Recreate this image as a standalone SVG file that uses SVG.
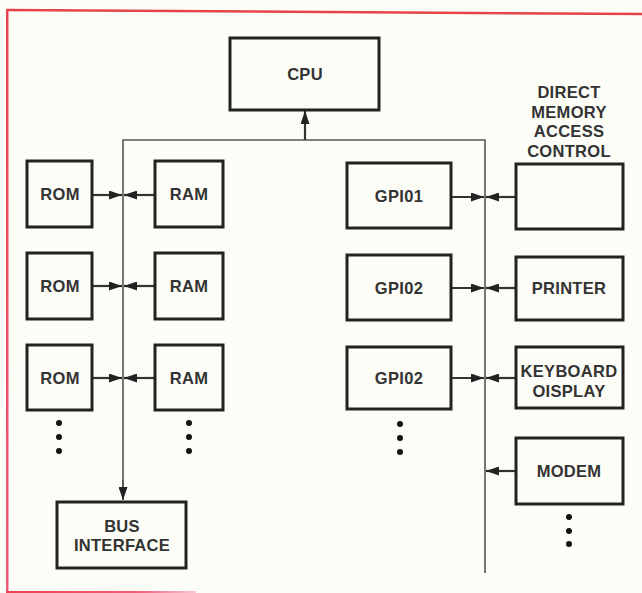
<svg xmlns="http://www.w3.org/2000/svg" width="642" height="593" viewBox="0 0 642 593">
<defs>
<style>
.box{fill:none;stroke:#222;stroke-width:3}
.t{font-family:"Liberation Sans",Arial,sans-serif;font-weight:bold;font-size:16.5px;fill:#333;text-anchor:middle;letter-spacing:0.3px}
.bus{fill:none;stroke:#555;stroke-width:1.6}
.ln{fill:none;stroke:#333;stroke-width:2.2}
.dot{fill:#111}
.red{fill:none;stroke:#e8424e;stroke-width:2.5}
</style>
<marker id="ah" viewBox="0 0 13 9" refX="13" refY="4.5" markerWidth="13" markerHeight="9" markerUnits="userSpaceOnUse" orient="auto">
<path d="M0,0 L13,4.5 L0,9 Z" fill="#222"/>
</marker>
<linearGradient id="fade" x1="0" y1="0" x2="1" y2="0">
<stop offset="0" stop-color="#e8424e"/>
<stop offset="0.7" stop-color="#f0607a"/>
<stop offset="1" stop-color="#f8c8d4"/>
</linearGradient>
<linearGradient id="lfade" x1="0" y1="0" x2="0" y2="1">
<stop offset="0" stop-color="#e8424e"/>
<stop offset="1" stop-color="#f05a78"/>
</linearGradient>
</defs>
<rect width="642" height="593" fill="#fdfdf8"/>
<g id="frame">
<line x1="7" y1="10" x2="642" y2="14" class="red"/>
<rect x="6" y="9" width="2.5" height="584" fill="url(#lfade)"/>
<rect x="6" y="591" width="190" height="2.5" fill="url(#fade)"/>
</g>
<g id="connectors">
<polyline class="bus" points="123,500 123,140 485,140 485,573"/>
<line class="ln" x1="305" y1="140" x2="305" y2="111" marker-end="url(#ah)"/>
<line class="bus" x1="123" y1="480" x2="123" y2="500" marker-end="url(#ah)"/>
<line class="ln" x1="92" y1="195" x2="122" y2="195" marker-end="url(#ah)"/>
<line class="ln" x1="155" y1="195" x2="124" y2="195" marker-end="url(#ah)"/>
<line class="ln" x1="92" y1="286" x2="122" y2="286" marker-end="url(#ah)"/>
<line class="ln" x1="155" y1="286" x2="124" y2="286" marker-end="url(#ah)"/>
<line class="ln" x1="92" y1="378" x2="122" y2="378" marker-end="url(#ah)"/>
<line class="ln" x1="155" y1="378" x2="124" y2="378" marker-end="url(#ah)"/>
<line class="ln" x1="451" y1="197" x2="484" y2="197" marker-end="url(#ah)"/>
<line class="ln" x1="516" y1="197" x2="486" y2="197" marker-end="url(#ah)"/>
<line class="ln" x1="451" y1="288" x2="484" y2="288" marker-end="url(#ah)"/>
<line class="ln" x1="516" y1="288" x2="486" y2="288" marker-end="url(#ah)"/>
<line class="ln" x1="451" y1="378" x2="484" y2="378" marker-end="url(#ah)"/>
<line class="ln" x1="516" y1="378" x2="486" y2="378" marker-end="url(#ah)"/>
<line class="ln" x1="516" y1="471" x2="486" y2="471" marker-end="url(#ah)"/>
</g>
<g id="cpu"><rect class="box" x="230" y="38" width="149" height="72"/><text class="t" x="305" y="80">CPU</text></g>
<g id="rom1"><rect class="box" x="27" y="161" width="65" height="66"/><text class="t" x="60" y="200">ROM</text></g>
<g id="rom2"><rect class="box" x="27" y="253" width="65" height="66"/><text class="t" x="60" y="292">ROM</text></g>
<g id="rom3"><rect class="box" x="27" y="345" width="65" height="65"/><text class="t" x="60" y="384">ROM</text></g>
<g id="ram1"><rect class="box" x="155" y="161" width="68" height="66"/><text class="t" x="189" y="200">RAM</text></g>
<g id="ram2"><rect class="box" x="155" y="253" width="68" height="66"/><text class="t" x="189" y="292">RAM</text></g>
<g id="ram3"><rect class="box" x="155" y="345" width="68" height="65"/><text class="t" x="189" y="384">RAM</text></g>
<g id="gpio1"><rect class="box" x="347" y="163" width="104" height="65"/><text class="t" x="399" y="202">GPI01</text></g>
<g id="gpio2"><rect class="box" x="347" y="255" width="104" height="65"/><text class="t" x="399" y="294">GPI02</text></g>
<g id="gpio3"><rect class="box" x="347" y="347" width="104" height="62"/><text class="t" x="399" y="384">GPI02</text></g>
<g id="dma"><rect class="box" x="516" y="164" width="107" height="65"/>
<text class="t" x="569" y="98">DIRECT</text><text class="t" x="569" y="118">MEMORY</text><text class="t" x="569" y="137">ACCESS</text><text class="t" x="569" y="157">CONTROL</text></g>
<g id="printer"><rect class="box" x="516" y="257" width="107" height="63"/><text class="t" x="569" y="294">PRINTER</text></g>
<g id="keyboard"><rect class="box" x="516" y="347" width="107" height="61"/><text class="t" x="569" y="377">KEYBOARD</text><text class="t" x="569" y="397">OISPLAY</text></g>
<g id="modem"><rect class="box" x="516" y="438" width="107" height="66"/><text class="t" x="569" y="477">MODEM</text></g>
<g id="bus-interface"><rect class="box" x="57" y="502" width="129" height="66"/><text class="t" x="122" y="532">BUS</text><text class="t" x="122" y="551">INTERFACE</text></g>
<g id="dots">
<circle class="dot" cx="59" cy="423" r="3"/><circle class="dot" cx="59" cy="437" r="3"/><circle class="dot" cx="59" cy="451" r="3"/>
<circle class="dot" cx="189" cy="423" r="3"/><circle class="dot" cx="189" cy="437" r="3"/><circle class="dot" cx="189" cy="451" r="3"/>
<circle class="dot" cx="400" cy="424" r="3"/><circle class="dot" cx="400" cy="438" r="3"/><circle class="dot" cx="400" cy="452" r="3"/>
<circle class="dot" cx="569" cy="517" r="3"/><circle class="dot" cx="569" cy="531" r="3"/><circle class="dot" cx="569" cy="544" r="3"/>
</g>
</svg>
